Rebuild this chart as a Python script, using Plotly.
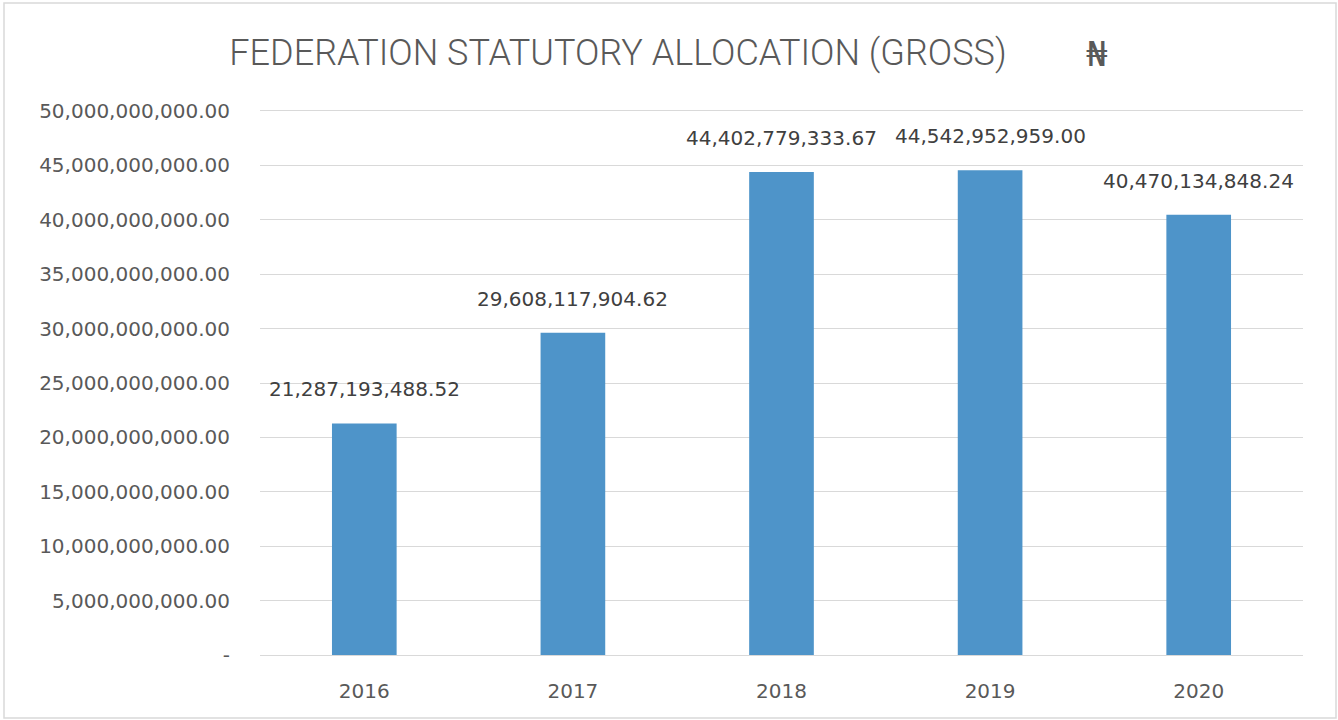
import plotly.graph_objects as go

years = ["2016", "2017", "2018", "2019", "2020"]
values = [21287193488.52, 29608117904.62, 44402779333.67, 44542952959.00, 40470134848.24]
y_ticks = [0, 5e9, 10e9, 15e9, 20e9, 25e9, 30e9, 35e9, 40e9, 45e9, 50e9]
title_main = "FEDERATION STATUTORY ALLOCATION (GROSS)"
currency = "\u20a6"

def fmt(v):
    return "-" if v == 0 else f"{v:,.2f}"

L, R, T, B = 260, 35, 111, 65
PW, PH = 1338 - L - R, 720 - T - B

fig = go.Figure()
fig.add_trace(go.Bar(
    x=years, y=values,
    marker=dict(color="#4E94C9", line=dict(width=0)),
    width=0.31,
))

# category axis: annotations placed by category index
for i, v in enumerate(values):
    fig.add_annotation(x=i, y=v, text=fmt(v), showarrow=False,
                       yanchor="bottom", yshift=20,
                       font=dict(size=20, color="#404040", family="DejaVu Sans, sans-serif"))

fig.update_layout(
    width=1338, height=720,
    margin=dict(l=L, r=R, t=T, b=B),
    paper_bgcolor="white", plot_bgcolor="white",
    title=dict(text=title_main, x=618 / 1338, xref="container", xanchor="center",
               y=1 - 52 / 720, yanchor="middle",
               font=dict(size=36, color="#595959", family="Roboto, sans-serif", weight=300)),
    showlegend=False,
    font=dict(family="DejaVu Sans, sans-serif", color="#595959"),
    shapes=[dict(type="rect", xref="paper", yref="paper",
                 x0=(4 - L) / PW, x1=(1336 - L) / PW, y0=-(718 - 655) / PH, y1=1 + (T - 3) / PH,
                 line=dict(color="#d9d9d9", width=1.5))],
)
fig.add_annotation(xref="paper", yref="paper", x=(1097 - L) / PW, y=1 + (T - 54) / PH,
                   text=currency, showarrow=False, xanchor="center", yanchor="middle",
                   font=dict(size=34, color="#595959", family="DejaVu Sans, sans-serif"))
fig.update_xaxes(
    type="category",
    showline=True, linecolor="#d9d9d9", linewidth=1, mirror=True,
    tickfont=dict(size=20, color="#595959"),
    ticks="outside", ticklen=18, tickcolor="rgba(0,0,0,0)",
    showgrid=False,
)
fig.update_yaxes(
    range=[0, 50e9],
    tickvals=y_ticks, ticktext=[fmt(v) for v in y_ticks],
    tickfont=dict(size=20, color="#595959"),
    gridcolor="#d9d9d9", gridwidth=1,
    ticks="outside", ticklen=25, tickcolor="rgba(0,0,0,0)",
    zeroline=False,
)

fig.write_html("out.html")
